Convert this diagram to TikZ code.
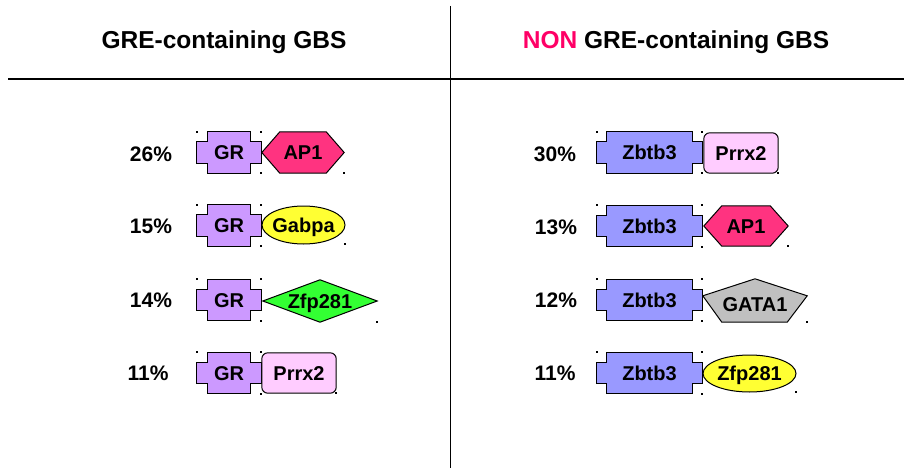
\documentclass[tikz,border=0pt]{standalone}
\usepackage{fontspec}
\setmainfont{Liberation Sans}
\usetikzlibrary{backgrounds}
\definecolor{grpurple}{HTML}{CC99FF}
\definecolor{zbtblue}{HTML}{9999FF}
\definecolor{ap1pink}{HTML}{FF3380}
\definecolor{gabyellow}{HTML}{FFFF33}
\definecolor{zfpgreen}{HTML}{33FF33}
\definecolor{prrxpink}{HTML}{FFCCFF}
\definecolor{gatagray}{HTML}{C0C0C0}
\definecolor{nonred}{HTML}{FF0066}
\tikzset{
  box/.style={rectangle,inner sep=0pt,font=\bfseries\fontsize{20}{24}\selectfont,text height=14pt,text depth=0pt},
  outline/.style={draw=black,line width=1pt},
  pct/.style={font=\bfseries\fontsize{21}{25}\selectfont},
  head/.style={font=\bfseries\fontsize{24.5}{29}\selectfont},
}
% #1 node, #2 notch width, #3 notch height, #4 fill
\newcommand\notchbox[4]{\draw[outline,fill=#4] ([xshift=#2]#1.north west) -- ([xshift=-#2]#1.north east)
  -- ([xshift=-#2,yshift=-#3]#1.north east) -- ([yshift=-#3]#1.north east) -- ([yshift=#3]#1.south east)
  -- ([xshift=-#2,yshift=#3]#1.south east) -- ([xshift=-#2]#1.south east) -- ([xshift=#2]#1.south west)
  -- ([xshift=#2,yshift=#3]#1.south west) -- ([yshift=#3]#1.south west) -- ([yshift=-#3]#1.north west)
  -- ([xshift=#2,yshift=-#3]#1.north west) -- cycle;}
\newcommand\hexbox[3]{\draw[outline,fill=#3] (#1.west) -- ([xshift=#2]#1.north west) -- ([xshift=-#2]#1.north east)
  -- (#1.east) -- ([xshift=-#2]#1.south east) -- ([xshift=#2]#1.south west) -- cycle;}
\newcommand\handles[2]{\foreach \p in {#1.north west,#1.north east,#1.south east,#2.south east}
  \fill (\p) ++(-1pt,-1pt) rectangle ++(2pt,2pt);}

\begin{document}
\begin{tikzpicture}[x=1pt,y=-1pt]
\useasboundingbox (0,0) rectangle (904,468);
\draw[line width=1.2pt] (8,79) -- (904,79);
\draw[line width=.8pt] (450,6) -- (450,468);
\node[head] (hl) at (224,42) {GRE-containing GBS};
\node[head] (hr) at (676,42) {{\color{nonred}NON} GRE-containing GBS};

% GRE-containing
\node[pct] (pa) at (151,154) {26\%};
\node[pct] (pb) at (151,226) {15\%};
\node[pct] (pc) at (151,300) {14\%};
\node[pct] (pd) at (148,373) {11\%};
\node[box,minimum width=64pt,minimum height=41pt] (gra) at (229,152.5) {GR};
\node[box,minimum width=82pt,minimum height=41pt] (ap1a) at (303,152.5) {AP1};
\node[box,minimum width=64pt,minimum height=41pt] (grb) at (229,225.5) {GR};
\node[box,minimum width=83pt,minimum height=38pt] (gabpa) at (303.5,225) {Gabpa};
\node[box,minimum width=64pt,minimum height=41pt] (grc) at (229,300) {GR};
\node[box,minimum width=114pt,minimum height=42pt] (zfpa) at (320,301) {Zfp281};
\node[box,minimum width=64pt,minimum height=41pt] (grd) at (229,373) {GR};
\node[box,minimum width=74pt,minimum height=40pt] (prrxa) at (299,373) {Prrx2};

% NON GRE-containing
\node[pct] (qa) at (555,154) {30\%};
\node[pct] (qb) at (556,227) {13\%};
\node[pct] (qc) at (556,300) {12\%};
\node[pct] (qd) at (555,373) {11\%};
\node[box,minimum width=105pt,minimum height=41pt] (zba) at (649.5,152.5) {Zbtb3};
\node[box,minimum width=74pt,minimum height=40pt] (prrxb) at (741,153) {Prrx2};
\node[box,minimum width=105pt,minimum height=41pt] (zbb) at (649.5,226) {Zbtb3};
\node[box,minimum width=84pt,minimum height=40pt] (ap1b) at (746,226) {AP1};
\node[box,minimum width=105pt,minimum height=41pt] (zbc) at (649.5,300) {Zbtb3};
\node[box,minimum width=104pt,minimum height=43pt,text height=22pt] (gata) at (755,300.5) {GATA1};
\node[box,minimum width=105pt,minimum height=41pt] (zbd) at (649.5,373) {Zbtb3};
\node[box,minimum width=93pt,minimum height=37pt] (zfpb) at (749.5,373.5) {Zfp281};

\begin{scope}[on background layer]
\foreach \n in {gra,grb,grc,grd} {\notchbox{\n}{11pt}{10pt}{grpurple}}
\foreach \n in {zba,zbb,zbc,zbd} {\notchbox{\n}{10pt}{10pt}{zbtblue}}
\hexbox{ap1a}{18pt}{ap1pink}\hexbox{ap1b}{18pt}{ap1pink}
\draw[outline,fill=gabyellow] (gabpa.center) ellipse[x radius=41.5pt,y radius=19pt];
\draw[outline,fill=zfpgreen] (zfpa.west) -- (zfpa.north) -- (zfpa.east) -- (zfpa.south) -- cycle;
\draw[outline,fill=prrxpink,rounded corners=6pt] (prrxa.north west) rectangle (prrxa.south east);
\draw[outline,fill=prrxpink,rounded corners=6pt] (prrxb.north west) rectangle (prrxb.south east);
\draw[outline,fill=gatagray] (gata.north) -- ([yshift=-17pt]gata.north east) -- ([xshift=-20pt]gata.south east)
  -- ([xshift=19pt]gata.south west) -- ([yshift=-17pt]gata.north west) -- cycle;
\draw[outline,fill=gabyellow] (zfpb.center) ellipse[x radius=46.5pt,y radius=18.5pt];
\end{scope}

\handles{gra}{ap1a}\handles{grb}{gabpa}\handles{grc}{zfpa}\handles{grd}{prrxa}
\handles{zba}{prrxb}\handles{zbb}{ap1b}\handles{zbc}{gata}\handles{zbd}{zfpb}
\end{tikzpicture}
\end{document}
